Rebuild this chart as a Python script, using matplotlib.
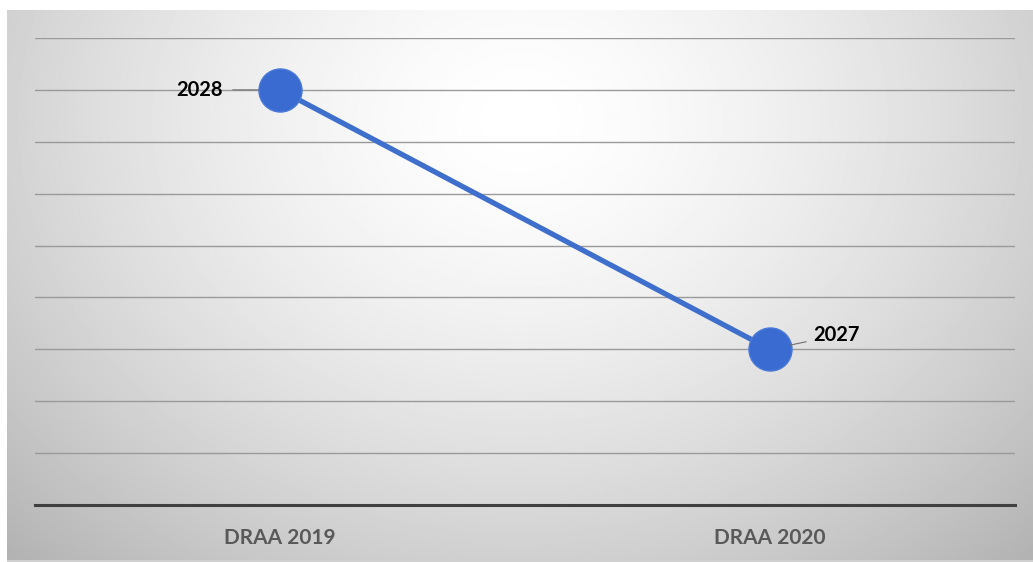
import numpy as np
import matplotlib
matplotlib.use('Agg')
import matplotlib.pyplot as plt

categories = ['DRAA 2019', 'DRAA 2020']
values = [2028, 2027]
value_labels = ['2028', '2027']

W, H = 1033, 562
fig = plt.figure(figsize=(W / 100, H / 100), dpi=100)
fig.patch.set_facecolor('white')

# gradient background of the chart area
bg = fig.add_axes([7 / W, 0, 1 - 7 / W, 1 - 10 / H])
yy, xx = np.mgrid[0:1:300j, 0:1:600j]
r = np.sqrt(((xx - 0.5) / 0.72) ** 2 + ((yy - 0.2) / 1.1) ** 2)
shade = 1.0 - 0.30 * np.clip(r, 0, 1) ** 1.5
bg.imshow(shade, cmap='gray', vmin=0, vmax=1, aspect='auto', extent=[0, 1, 1, 0])
bg.set_xlim(0, 1)
bg.set_ylim(1, 0)
bg.axis('off')
bg.plot([0, 1], [0.002, 0.002], color='#d0d0d0', lw=1.5, transform=bg.transAxes)

ax = fig.add_axes([35 / W, 1 - 505 / H, (1015 - 35) / W, (505 - 38) / H])
ax.patch.set_alpha(0)
x = np.arange(len(categories))
ax.set_xlim(-0.5, len(categories) - 0.5)
ax.set_ylim(2026.4, 2028.2)
ax.set_yticks(np.arange(2026.6, 2028.21, 0.2))
ax.yaxis.grid(True, color='#9a9a9a', lw=1.0)
ax.set_axisbelow(True)
ax.tick_params(axis='y', left=False, labelleft=False)
ax.tick_params(axis='x', bottom=False, pad=13)
ax.set_xticks(x)
ax.set_xticklabels(categories, fontsize=15, fontweight='bold', color='#595959', family='Lato')
for side in ['top', 'right', 'left']:
    ax.spines[side].set_visible(False)
ax.spines['bottom'].set_color('#404040')
ax.spines['bottom'].set_linewidth(2.2)

ax.plot(x, values, color='#3F6FCC', lw=3.8, marker='o', markersize=31,
        markerfacecolor='#3A6BD0', markeredgecolor='#4A7AD8', markeredgewidth=1, zorder=3)

# data labels with leader lines
ax.annotate(value_labels[0], xy=(x[0], values[0]), xytext=(-41, 0), textcoords='offset points',
            ha='right', va='center', fontsize=14.5, fontweight='bold', family='Lato',
            arrowprops=dict(arrowstyle='-', color='#707070', lw=0.8, shrinkA=5, shrinkB=15))
ax.annotate(value_labels[1], xy=(x[1], values[1]), xytext=(31, 10), textcoords='offset points',
            ha='left', va='center', fontsize=14.5, fontweight='bold', family='Lato',
            arrowprops=dict(arrowstyle='-', color='#707070', lw=0.8, shrinkA=3, shrinkB=15))

fig.savefig('out.png', dpi=100)
